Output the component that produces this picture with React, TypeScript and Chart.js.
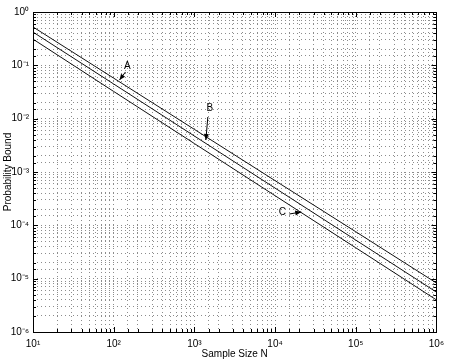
import React, { useEffect, useRef } from 'react';
import { Chart, registerables } from 'chart.js';

Chart.register(...registerables);

// ---- data ----
const sampleSizes = [10, 100, 1000, 10000, 100000, 1000000];
const boundA = [0.525, 0.0575, 0.0063, 6.9e-4, 7.6e-5, 8.3e-6];
const boundB = [0.42, 0.0447, 0.00473, 5.0e-4, 5.3e-5, 5.6e-6];
const boundC = [0.31, 0.0324, 0.00342, 3.6e-4, 3.8e-5, 4.0e-6];

// annotation labels (in data units)
const annotationLabels = ['A', 'B', 'C'];
const labelN = [148, 1556, 12330];
const labelP = [0.0972, 0.0158, 1.78e-4];
const arrowTailN = [140, 1469, 15030];
const arrowTailP = [0.075, 0.01074, 1.63e-4];
const arrowHeadN = [118, 1390, 21130];
const arrowHeadP = [0.053, 0.00398, 1.78e-4];

const xAxisTitle = 'Sample Size N';
const yAxisTitle = 'Probability Bound';

const FONT = "'Liberation Sans', Arial, Helvetica, sans-serif";

const SUP: Record<string, string> = {
  '-': '\u207B', '0': '\u2070', '1': '\u00B9', '2': '\u00B2', '3': '\u00B3',
  '4': '\u2074', '5': '\u2075', '6': '\u2076', '7': '\u2077', '8': '\u2078', '9': '\u2079',
};
const sup = (n: number) => String(n).split('').map((c) => SUP[c] ?? c).join('');

const isPow10 = (v: number) => {
  const e = Math.log10(v);
  return Math.abs(e - Math.round(e)) < 1e-9;
};

const tickLabel = (value: any) => {
  const v = Number(value);
  if (isPow10(v)) return '10' + sup(Math.round(Math.log10(v)));
  return '';
};

const framePlugin = {
  id: 'frameAndTicks',
  afterDraw(chart: any) {
    const { ctx, chartArea } = chart;
    const { left, right, top, bottom } = chartArea;
    const xs = chart.scales.x;
    const ys = chart.scales.y;
    ctx.save();
    ctx.strokeStyle = '#000';
    ctx.lineWidth = 1;
    ctx.setLineDash([]);
    ctx.beginPath();
    xs.ticks.forEach((t: any) => {
      const px = Math.round(xs.getPixelForValue(t.value)) + 0.5;
      const L = isPow10(t.value) ? 5 : 3;
      ctx.moveTo(px, bottom);
      ctx.lineTo(px, bottom - L);
      ctx.moveTo(px, top);
      ctx.lineTo(px, top + L);
    });
    ys.ticks.forEach((t: any) => {
      const py = Math.round(ys.getPixelForValue(t.value)) + 0.5;
      const L = isPow10(t.value) ? 5 : 3;
      ctx.moveTo(left, py);
      ctx.lineTo(left + L, py);
      ctx.moveTo(right, py);
      ctx.lineTo(right - L, py);
    });
    ctx.stroke();
    ctx.strokeRect(Math.round(left) + 0.5, Math.round(top) + 0.5, Math.round(right - left), Math.round(bottom - top));
    ctx.restore();
  },
};

const annotationPlugin = {
  id: 'letterArrows',
  afterDatasetsDraw(chart: any) {
    const { ctx } = chart;
    const xs = chart.scales.x;
    const ys = chart.scales.y;
    ctx.save();
    ctx.fillStyle = '#000';
    ctx.strokeStyle = '#000';
    ctx.lineWidth = 1;
    ctx.font = `10px ${FONT}`;
    ctx.textAlign = 'center';
    ctx.textBaseline = 'middle';
    annotationLabels.forEach((lab, i) => {
      const lx = xs.getPixelForValue(labelN[i]);
      const ly = ys.getPixelForValue(labelP[i]);
      ctx.fillText(lab, lx, ly);
      const tx = xs.getPixelForValue(arrowTailN[i]);
      const ty = ys.getPixelForValue(arrowTailP[i]);
      const hx = xs.getPixelForValue(arrowHeadN[i]);
      const hy = ys.getPixelForValue(arrowHeadP[i]);
      ctx.beginPath();
      ctx.moveTo(tx, ty);
      ctx.lineTo(hx, hy);
      ctx.stroke();
      const ang = Math.atan2(hy - ty, hx - tx);
      const len = 6;
      const wid = 2.5;
      const bx = hx - len * Math.cos(ang);
      const by = hy - len * Math.sin(ang);
      ctx.beginPath();
      ctx.moveTo(hx, hy);
      ctx.lineTo(bx + wid * Math.sin(ang), by - wid * Math.cos(ang));
      ctx.lineTo(bx - wid * Math.sin(ang), by + wid * Math.cos(ang));
      ctx.closePath();
      ctx.fill();
    });
    ctx.restore();
  },
};

const mkSeries = (vals: number[]) => sampleSizes.map((n, i) => ({ x: n, y: vals[i] }));

export default function App() {
  const ref = useRef<HTMLCanvasElement | null>(null);

  useEffect(() => {
    if (!ref.current) return;
    const lineStyle = {
      borderColor: '#111',
      borderWidth: 1,
      pointRadius: 0,
      fill: false,
      tension: 0,
    };
    const chart = new Chart(ref.current, {
      type: 'line',
      data: {
        datasets: [
          { label: 'A', data: mkSeries(boundA), ...lineStyle },
          { label: 'B', data: mkSeries(boundB), ...lineStyle },
          { label: 'C', data: mkSeries(boundC), ...lineStyle },
        ],
      },
      options: {
        animation: false,
        responsive: false,
        events: [],
        layout: { padding: { left: 0, right: 11, top: 12, bottom: 0 } },
        plugins: {
          legend: { display: false },
          tooltip: { enabled: false },
        },
        scales: {
          x: {
            type: 'logarithmic',
            min: 10,
            max: 1000000,
            afterFit: (s: any) => { s.height = 28; },
            border: { display: false, dash: [1, 3] },
            grid: { color: '#8c8c8c', lineWidth: 1, drawTicks: false },
            ticks: {
              autoSkip: false,
              maxRotation: 0,
              minRotation: 0,
              padding: 6,
              color: '#000',
              font: { family: FONT, size: 10 },
              callback: tickLabel,
            },
            title: {
              display: true,
              text: xAxisTitle,
              color: '#000',
              font: { family: FONT, size: 10 },
              padding: { top: 2, bottom: 0 },
            },
          },
          y: {
            type: 'logarithmic',
            min: 1e-6,
            max: 1,
            afterFit: (s: any) => { s.width = 33; },
            border: { display: false, dash: [1, 3] },
            grid: { color: '#8c8c8c', lineWidth: 1, drawTicks: false },
            ticks: {
              autoSkip: false,
              padding: 4,
              color: '#000',
              font: { family: FONT, size: 10 },
              callback: tickLabel,
            },
            title: {
              display: true,
              text: yAxisTitle,
              color: '#000',
              font: { family: FONT, size: 10 },
              padding: { top: 2, bottom: 0 },
            },
          },
        },
      } as any,
      plugins: [framePlugin, annotationPlugin],
    });
    return () => chart.destroy();
  }, []);

  return (
    <div style={{ position: 'absolute', left: 0, top: 0, width: 450, height: 360, background: '#fff' }}>
      <canvas ref={ref} width={450} height={360} style={{ display: 'block' }} />
    </div>
  );
}
